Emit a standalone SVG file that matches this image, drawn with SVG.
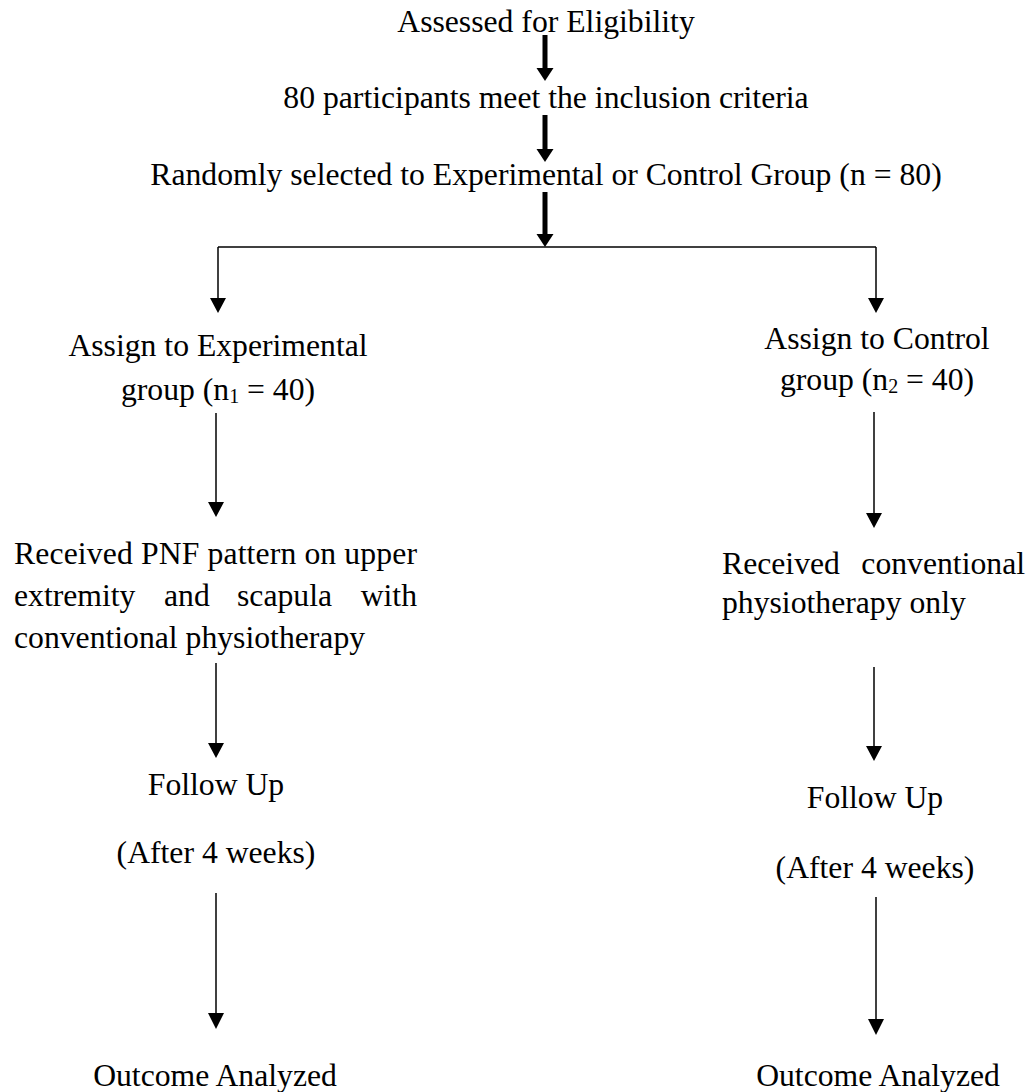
<svg xmlns="http://www.w3.org/2000/svg" width="1034" height="1092" viewBox="0 0 1034 1092">
<style>
text{font-family:"Liberation Serif","Times New Roman",serif;font-size:31.7px;fill:#000}
.c{text-anchor:middle}
.e{text-anchor:end}
.sub{font-size:20px}
.thin{stroke:#000;stroke-width:1.5;fill:none}
.thick{stroke:#000;stroke-width:5;fill:none}
</style>
<defs>
<marker id="ah" markerUnits="userSpaceOnUse" viewBox="0 0 16 15" refX="8" refY="15" markerWidth="16" markerHeight="15" orient="auto-start-reverse">
<path d="M0,0 L16,0 L8,15 Z" fill="#000"/>
</marker>
</defs>
<rect width="1034" height="1092" fill="#fff"/>
<g id="connectors">
<path class="thick" d="M545,35 V70"/>
<path d="M536.5,68 H553.5 L545,81 Z" fill="#000"/>
<path class="thick" d="M545,115 V151"/>
<path d="M536.5,149 H553.5 L545,162 Z" fill="#000"/>
<path class="thick" d="M545,192 V236"/>
<path d="M536.5,234 H553.5 L545,247 Z" fill="#000"/>
<path class="thin" d="M218,247 H876"/>
<path class="thin" d="M218,247 V298"/>
<path d="M210,298 H226 L218,313 Z" fill="#000"/>
<path class="thin" d="M876,247 V298"/>
<path d="M868,298 H884 L876,313 Z" fill="#000"/>
<path class="thin" d="M216,413 V502"/>
<path d="M208,502 H224 L216,517 Z" fill="#000"/>
<path class="thin" d="M874,412 V513"/>
<path d="M866,513 H882 L874,528 Z" fill="#000"/>
<path class="thin" d="M216,663 V743"/>
<path d="M208,743 H224 L216,758 Z" fill="#000"/>
<path class="thin" d="M874,667 V746"/>
<path d="M866,746 H882 L874,761 Z" fill="#000"/>
<path class="thin" d="M216,893 V1013"/>
<path d="M208,1013 H224 L216,1029 Z" fill="#000"/>
<path class="thin" d="M876,897 V1019"/>
<path d="M868,1019 H884 L876,1035 Z" fill="#000"/>
</g>
<g id="assessed"><text class="c" x="546" y="32">Assessed for Eligibility</text></g>
<g id="inclusion"><text class="c" x="546" y="108">80 participants meet the inclusion criteria</text></g>
<g id="randomized"><text class="c" x="546" y="185">Randomly selected to Experimental or Control Group (n = 80)</text></g>
<g id="exp-assign">
<text class="c" x="218" y="356">Assign to Experimental</text>
<text class="c" x="218" y="400">group (n<tspan class="sub" dy="3">1</tspan><tspan dy="-3"> = 40)</tspan></text>
</g>
<g id="ctrl-assign">
<text class="c" x="877" y="349">Assign to Control</text>
<text class="c" x="877" y="390">group (n<tspan class="sub" dy="3">2</tspan><tspan dy="-3"> = 40)</tspan></text>
</g>
<g id="exp-treatment">
<text x="14" y="564" textLength="403" lengthAdjust="spacing">Received PNF pattern on upper</text>
<text y="606"><tspan x="14">extremity</tspan><tspan x="164">and</tspan><tspan x="237">scapula</tspan></text>
<text class="e" x="417" y="606">with</text>
<text x="14" y="648">conventional physiotherapy</text>
</g>
<g id="ctrl-treatment">
<text x="722" y="574">Received</text>
<text class="e" x="1025" y="574">conventional</text>
<text x="722" y="613">physiotherapy only</text>
</g>
<g id="exp-followup">
<text class="c" x="216" y="795">Follow Up</text>
<text class="c" x="216" y="863">(After 4 weeks)</text>
</g>
<g id="ctrl-followup">
<text class="c" x="875" y="808">Follow Up</text>
<text class="c" x="875" y="878">(After 4 weeks)</text>
</g>
<g id="exp-outcome"><text class="c" x="215" y="1086">Outcome Analyzed</text></g>
<g id="ctrl-outcome"><text class="c" x="878" y="1086">Outcome Analyzed</text></g>
</svg>
